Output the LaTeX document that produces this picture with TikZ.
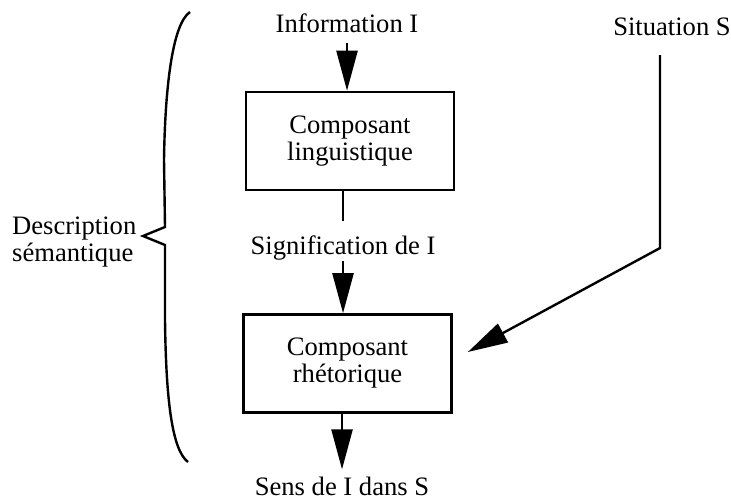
\documentclass[tikz,border=0pt]{standalone}
\usepackage{fontspec}
\setmainfont{Liberation Serif}
\usetikzlibrary{arrows.meta,calc}
\begin{document}
\begin{tikzpicture}[scale=0.1757,line width=1.2pt,font=\fontsize{13.3}{13.5}\selectfont]
\tikzstyle{every node}+=[inner sep=0pt]
\tikzstyle{comp}=[draw=black,line width=1.3pt,minimum width=104pt,minimum height=49pt,align=center]
\tikzstyle{tip}=[-{Triangle[length=20pt,width=10.5pt]}]
\useasboundingbox (0,0) rectangle (73.1,-50);
\node [anchor=base] (info) at (34.7,-3.3) {Information I};
\node [anchor=base] (sit) at (67.2,-3.6) {Situation S};
\node [comp] (lin) at (35.0,-14.1) {Composant\\linguistique};
\node [anchor=base] (sig) at (34.3,-25.4) {Signification de I};
\node [comp] (rhe) at (34.75,-36.35) {Composant\\rhétorique};
\node [anchor=base] (sens) at (34.2,-49.5) {Sens de I dans S};
\node [anchor=west,align=left] (desc) at (1.1,-24.2) {Description\\sémantique};
\coordinate (s0) at (66.0,-5.5);
\coordinate (s1) at (66.0,-24.8);
\draw [black,tip,shorten <=4.5pt] (info.south) -- (info.south |- lin.north);
\draw [black,shorten >=6.5pt] (lin.south -| sig.north) -- (sig.north);
\draw [black,tip] (sig.south) -- (sig.south |- rhe.north);
\draw [black,tip,shorten >=3pt] (rhe.south -| sens.north) -- (sens.north);
\draw [black,tip] (s0) -- (s1) -- ($(rhe.east)+(1.5,1.15)$);
\draw [black] (19.0,-1.2) .. controls (17.2,-2.4) and (16.5,-9.0) .. (16.4,-16.0) -- (16.5,-22.7) -- (14.3,-23.6) -- (16.5,-24.5) -- (16.5,-32.0) .. controls (16.6,-40.0) and (17.2,-45.0) .. (18.8,-46.2);
\end{tikzpicture}
\end{document}
